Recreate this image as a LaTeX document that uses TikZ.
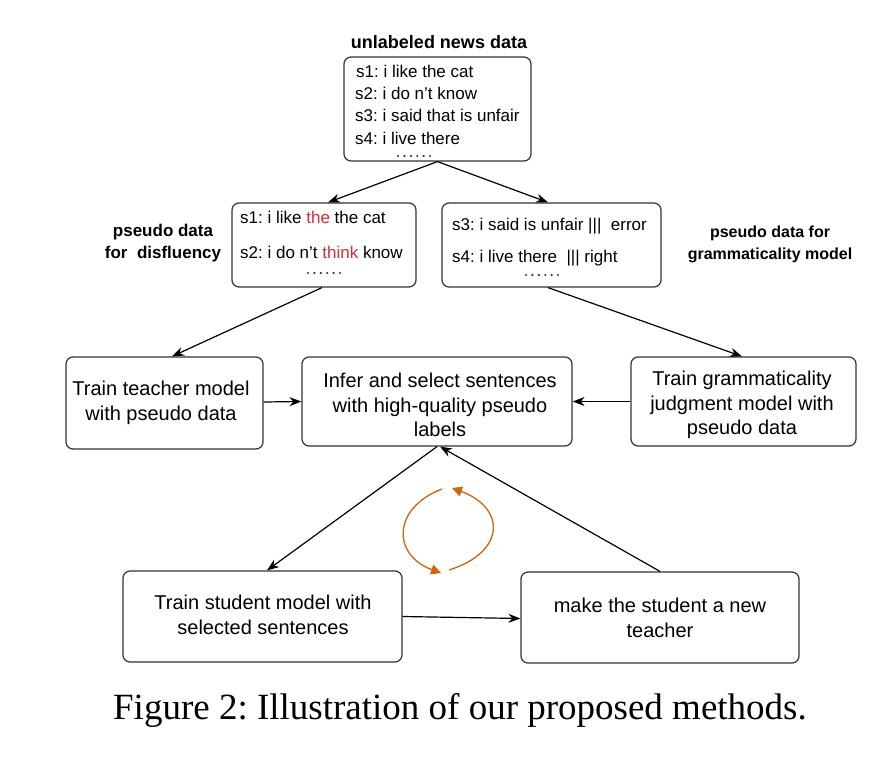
\documentclass[tikz,border=0pt]{standalone}
\usepackage{fontspec}
\setmainfont{Liberation Sans}
\newfontfamily\capfont{Liberation Serif}
\usetikzlibrary{arrows.meta,calc}
\definecolor{boxline}{HTML}{333333}
\definecolor{redw}{HTML}{D0313A}
\definecolor{loopc}{HTML}{CC6611}
\frenchspacing
\begin{document}
\begin{tikzpicture}[x=1pt,y=-1pt,
  box/.style={draw=boxline,line width=1.2pt,rounded corners=7pt,inner sep=0pt},
  txt/.style={inner sep=0pt,font=\fontsize{17}{21}\selectfont,anchor=west},
  big/.style={inner sep=0pt,font=\fontsize{20}{24.5}\selectfont,align=center},
  lab/.style={inner sep=0pt,font=\fontsize{16}{22}\selectfont\bfseries,align=center},
  dot/.style={fill=black!80,draw=none,circle,inner sep=0pt,minimum size=2.4pt},
  arr/.style={draw=black,line width=1.2pt,-{Stealth[length=12pt,width=9pt]}},
  oarr/.style={draw=loopc,line width=1.3pt,-{Triangle[length=10pt,width=10pt]}}]
\useasboundingbox (0,0) rectangle (889,778);
\fill[white] (0,0) rectangle (889,778);

% top box
\node[box,minimum width=187pt,minimum height=104pt] (top) at (437.5,109) {};
\node[lab,font=\fontsize{18}{22}\selectfont\bfseries] (toplab) at (439,42) {unlabeled news data};
\node[txt] (t1) at (356,71) {s1: i like the cat};
\node[txt] (t2) at (355,93) {s2: i do n’t know};
\node[txt] (t3) at (355,115) {s3: i said that is unfair};
\node[txt] (t4) at (355,138) {s4: i live there};
\foreach \i in {0,...,5} \node[dot] (td\i) at (398+6.4*\i,156) {};

% pseudo boxes
\node[box,minimum width=184pt,minimum height=84pt] (lbox) at (324,245) {};
\node[txt] (l1) at (240,217) {s1: i like \textcolor{redw}{the} the cat};
\node[txt] (l2) at (240,252) {s2: i do n’t \textcolor{redw}{think} know};
\foreach \i in {0,...,5} \node[dot] (ld\i) at (308+6.4*\i,273) {};
\node[lab,font=\fontsize{17}{22}\selectfont\bfseries] (llab) at (163,243) {pseudo data\\for\ \ disfluency};

\node[box,minimum width=219pt,minimum height=84pt] (rbox) at (551.5,245) {};
\node[txt] (r1) at (452,226) {s3: i said is unfair |||\ \ error};
\node[txt] (r2) at (452,258) {s4: i live there\ \ ||| right};
\foreach \i in {0,...,5} \node[dot] (rd\i) at (526+6.4*\i,275) {};
\node[lab] (rlab) at (770,244) {pseudo data for\\grammaticality model};

% middle row
\node[box,minimum width=197pt,minimum height=92pt] (teach) at (164.5,403) {};
\node[big] (teachT) at (161,403) {Train teacher model\\with pseudo data};
\node[box,minimum width=270pt,minimum height=89pt] (infer) at (437,401.5) {};
\node[big] (inferT) at (440,405) {Infer and select sentences\\with high-quality pseudo\\labels};
\node[box,minimum width=225pt,minimum height=89pt] (gram) at (743.5,401.5) {};
\node[big] (gramT) at (742,405) {Train grammaticality\\judgment model with\\pseudo data};

% bottom row
\node[box,minimum width=279pt,minimum height=91pt] (stud) at (262.5,616.5) {};
\node[big] (studT) at (263,615) {Train student model with\\selected sentences};
\node[box,minimum width=278pt,minimum height=91pt] (newt) at (660,617.5) {};
\node[big] (newtT) at (660,618) {make the student a new\\teacher};

% caption
\node[inner sep=0pt,font=\capfont\fontsize{37}{40}\selectfont] (cap) at (460,710) {Figure 2: Illustration of our proposed methods.};

% arrows
\draw[arr] (top.south) -- ([xshift=4pt]lbox.north);
\draw[arr] (top.south) -- ([xshift=-3.5pt]rbox.north);
\draw[arr] ([xshift=-2pt]lbox.south) -- ([xshift=7.5pt]teach.north);
\draw[arr] ([xshift=-3.5pt]rbox.south) -- ([xshift=-1.5pt]gram.north);
\draw[arr] ([yshift=1pt]teach.east) -- (infer.west);
\draw[arr] (gram.west) -- (infer.east);
\draw[arr] (infer.south) -- ([xshift=4.5pt]stud.north);
\draw[arr] (newt.north) -- ([xshift=3pt]infer.south);
\draw[arr] (stud.east) -- ([yshift=-1pt]newt.west);

% loop
\coordinate (la) at (442,489);
\coordinate (lb) at (441,573);
\coordinate (ra) at (449,570);
\coordinate (rb) at (452,488);
\draw[oarr] (la) .. controls (392,508) and (392,555) .. (lb);
\draw[oarr] (ra) .. controls (506,552) and (506,508) .. (rb);
\end{tikzpicture}
\end{document}
